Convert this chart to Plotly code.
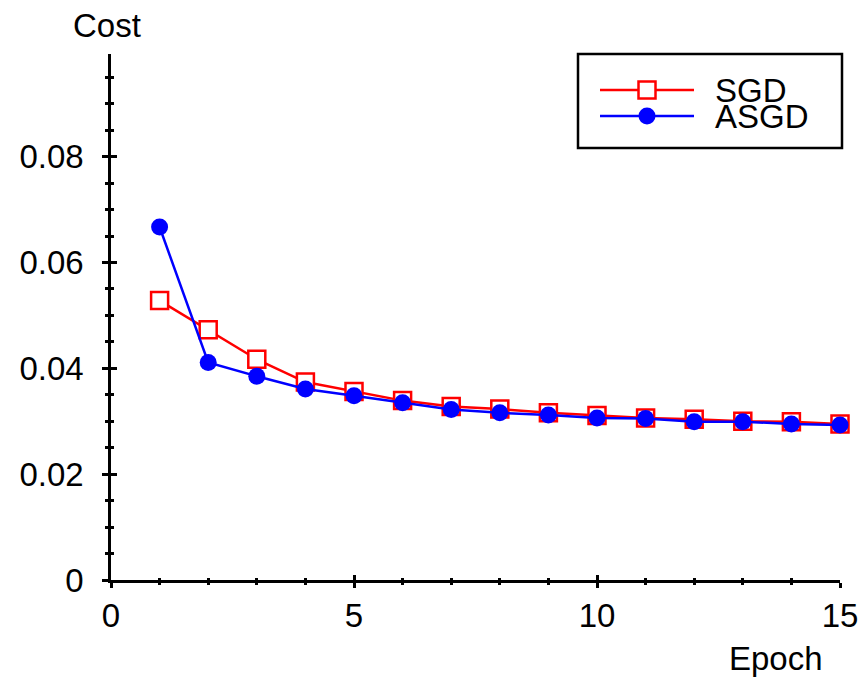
import plotly.graph_objects as go

epochs = list(range(1, 16))
sgd = [0.0528, 0.0473, 0.0417, 0.0374, 0.0356, 0.0339, 0.0328, 0.0323, 0.0316, 0.0311,
       0.0306, 0.0304, 0.0300, 0.0299, 0.0295]
asgd = [0.0667, 0.0411, 0.0385, 0.0361, 0.0348, 0.0335, 0.0322, 0.0316, 0.0312, 0.0306,
        0.0305, 0.0299, 0.0299, 0.0295, 0.0293]
x_ticks = [0, 5, 10, 15]
y_ticks = [0, 0.02, 0.04, 0.06, 0.08]
y_tick_labels = ["0", "0.02", "0.04", "0.06", "0.08"]

FONT = "Arial, Liberation Sans, sans-serif"
FS = 33

fig = go.Figure()
fig.add_trace(go.Scatter(
    x=epochs, y=sgd, mode="lines+markers", name="SGD",
    line=dict(color="#ff0000", width=2.5),
    marker=dict(symbol="square", size=17, color="white", line=dict(color="#ff0000", width=2.5)),
    cliponaxis=False, showlegend=False))
fig.add_trace(go.Scatter(
    x=epochs, y=asgd, mode="lines+markers", name="ASGD",
    line=dict(color="#0000ff", width=2.5),
    marker=dict(symbol="circle", size=17, color="#0000ff"),
    cliponaxis=False, showlegend=False))

XR = [0, 15]
YR = [0, 0.0994]
common = dict(showgrid=False, zeroline=False, linecolor="black", linewidth=2.5,
              tickcolor="black", tickwidth=2.5, automargin=False)
fig.update_layout(
    width=859, height=678,
    margin=dict(l=111, r=19, t=54, b=98, autoexpand=False),
    paper_bgcolor="white", plot_bgcolor="white",
    font=dict(family=FONT, size=FS, color="black"),
    xaxis=dict(range=XR, tickvals=x_ticks, ticks="outside", ticklen=5, showline=True,
               ticklabelstandoff=0,
               minor=dict(dtick=1, ticks="outside", ticklen=2, tickwidth=2.5, tickcolor="black"),
               tickfont=dict(size=FS), **common),
    yaxis=dict(range=YR, tickvals=y_ticks, ticktext=y_tick_labels, ticks="outside", ticklen=6,
               showline=True, ticklabelstandoff=12,
               minor=dict(tick0=0, dtick=0.005, ticks="outside", ticklen=3, tickwidth=2.5, tickcolor="black"),
               tickfont=dict(size=FS), **common),
    xaxis2=dict(range=XR, overlaying="x", anchor="y", side="bottom", tickvals=x_ticks,
                ticks="inside", ticklen=5, showticklabels=False, showline=False,
                minor=dict(dtick=1, ticks="inside", ticklen=2, tickwidth=2.5, tickcolor="black"),
                **common),
    yaxis2=dict(range=YR, overlaying="y", anchor="x", side="left", tickvals=y_ticks,
                ticks="inside", ticklen=6, showticklabels=False, showline=False,
                minor=dict(tick0=0, dtick=0.005, ticks="inside", ticklen=3, tickwidth=2.5, tickcolor="black"),
                **common),
)
# invisible trace binding the overlay axes (used for the crossing tick marks)
fig.add_trace(go.Scatter(x=[None], y=[None], xaxis="x2", yaxis="y2", showlegend=False, hoverinfo="skip"))

# axis titles
fig.add_annotation(text="Cost", xref="paper", yref="paper", x=-0.005, y=1.055,
                   xanchor="center", yanchor="middle", showarrow=False, font=dict(size=FS))
fig.add_annotation(text="Epoch", xref="paper", yref="paper", x=0.912, y=-0.15,
                   xanchor="center", yanchor="middle", showarrow=False, font=dict(size=FS))

# legend (drawn manually to match the long symbol lines and tight spacing)
W, H = 729, 526
def px(xp):
    return (xp - 111) / W
def py(yp):
    return (580 - yp) / H

fig.add_shape(type="rect", xref="paper", yref="paper", x0=px(578), x1=px(842), y0=py(148), y1=py(54),
              line=dict(color="black", width=2.5), fillcolor="white", layer="above")
for name, color, yc, sym in [("SGD", "#ff0000", 90, "square"), ("ASGD", "#0000ff", 116, "circle")]:
    fig.add_shape(type="line", xref="paper", yref="paper", x0=px(600), x1=px(694), y0=py(yc), y1=py(yc),
                  line=dict(color=color, width=2.5), layer="above")
    if sym == "square":
        fig.add_shape(type="rect", xref="paper", yref="paper", xsizemode="pixel", ysizemode="pixel",
                      xanchor=px(647), yanchor=py(yc), x0=-8.5, x1=8.5, y0=-8.5, y1=8.5,
                      line=dict(color=color, width=2.5), fillcolor="white", layer="above")
    else:
        fig.add_shape(type="circle", xref="paper", yref="paper", xsizemode="pixel", ysizemode="pixel",
                      xanchor=px(647), yanchor=py(yc), x0=-8.5, x1=8.5, y0=-8.5, y1=8.5,
                      line=dict(color=color, width=0), fillcolor=color, layer="above")
    fig.add_annotation(text=name, xref="paper", yref="paper", x=px(713), y=py(yc),
                       xanchor="left", yanchor="middle", showarrow=False, font=dict(size=FS))

fig.write_html("out.html", config={"displayModeBar": False},
               post_script="document.body.style.margin='0';document.body.style.overflow='hidden';")
